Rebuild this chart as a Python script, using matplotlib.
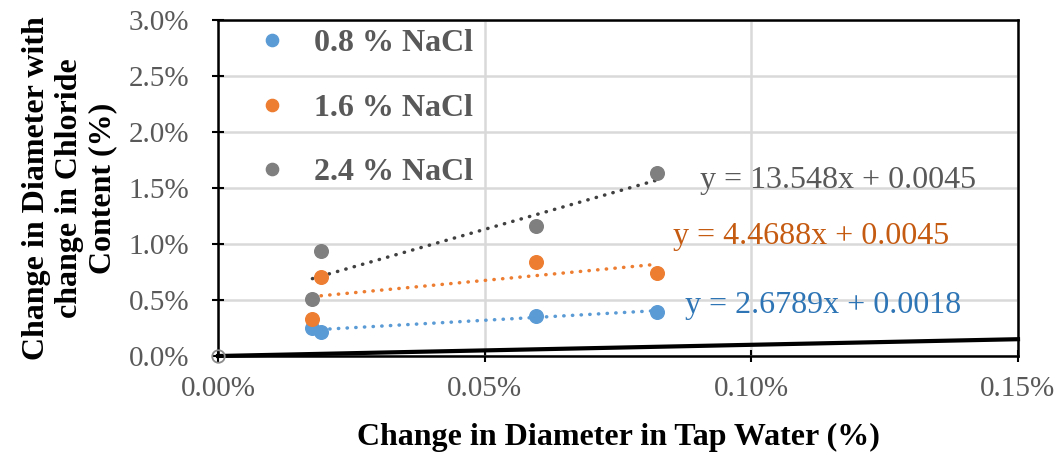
import matplotlib.pyplot as plt
from matplotlib.ticker import PercentFormatter
import numpy as np

# data (fractions, axis shows percent)
tap_water = [0.000177, 0.000194, 0.000596, 0.000824]
nacl_08 = [0.00247, 0.00217, 0.00360, 0.00396]
nacl_16 = [0.00328, 0.00703, 0.00837, 0.00738]
nacl_24 = [0.00506, 0.00940, 0.01161, 0.01631]
labels = ['0.8 % NaCl', '1.6 % NaCl', '2.4 % NaCl']
equations = ['y = 2.6789x + 0.0018', 'y = 4.4688x + 0.0045', 'y = 13.548x + 0.0045']
eq_pos = [(0.000876, 0.00455), (0.000853, 0.01063), (0.000904, 0.01563)]
ref_line = [0.0, 0.0015]

marker_colors = ['#5B9BD5', '#ED7D31', '#7F7F7F']
trend_colors = ['#5B9BD5', '#ED7D31', '#404040']
text_colors = ['#2E75B6', '#C55A11', '#595959']

plt.rcParams['font.family'] = 'Liberation Serif'

fig = plt.figure(figsize=(10.62, 4.55), dpi=100)
ax = fig.add_axes([218 / 1062, 99 / 455, 800 / 1062, 336 / 455])

series = [nacl_08, nacl_16, nacl_24]
x = np.array(tap_water)
for vals, lab, mc, tc, txc, eq, pos in zip(series, labels, marker_colors,
                                            trend_colors, text_colors,
                                            equations, eq_pos):
    ax.plot(x, vals, 'o', ms=9.8, color=mc, label=lab, zorder=4)
    k, b = np.polyfit(x, vals, 1)
    xs = np.array([x.min(), x.max()])
    ax.plot(xs, k * xs + b, linestyle=(0, (0.1, 2.4)), lw=2.5, color=tc,
            dash_capstyle='round', zorder=3)
    ax.text(pos[0], pos[1], eq, color=txc, fontsize=23, va='center', ha='left')

# 1:1 line
ax.plot(ref_line, ref_line, color='black', lw=3, zorder=5, clip_on=False)
ax.plot([0], [0], 'o', ms=9, mfc='none', mec='#8C8C8C', mew=1.3, zorder=6,
        clip_on=False)

ax.set_xlim(0, 0.0015)
ax.set_ylim(0, 0.03)
ax.set_xticks([0, 0.0005, 0.001, 0.0015])
ax.set_yticks(np.arange(0, 0.0301, 0.005))
ax.xaxis.set_major_formatter(PercentFormatter(1.0, decimals=2))
ax.yaxis.set_major_formatter(PercentFormatter(1.0, decimals=1))
ax.tick_params(direction='inout', length=9, width=1.5, colors='black',
               labelcolor='#595959', labelsize=21)
ax.tick_params(axis='y', pad=16)
ax.tick_params(axis='x', pad=10)
ax.grid(True, color='#D9D9D9', lw=1.8, zorder=0)
ax.set_axisbelow(True)
for sp in ax.spines.values():
    sp.set_color('black')
    sp.set_linewidth(1.8)

ax.set_xlabel('Change in Diameter in Tap Water (%)', fontsize=23,
              fontweight='bold', labelpad=15)
ax.set_ylabel('Change in Diameter with\nchange in Chloride\nContent (%)',
              fontsize=23, fontweight='bold', labelpad=8, linespacing=1.2)

leg = ax.legend(loc='upper left', bbox_to_anchor=(0.0, 1.04), frameon=False,
                prop={'weight': 'bold', 'size': 23}, labelspacing=1.1,
                handletextpad=0.3, numpoints=1, markerscale=0.9,
                borderaxespad=0.3)
for t in leg.get_texts():
    t.set_color('#595959')

fig.savefig('out.png', dpi=100)
